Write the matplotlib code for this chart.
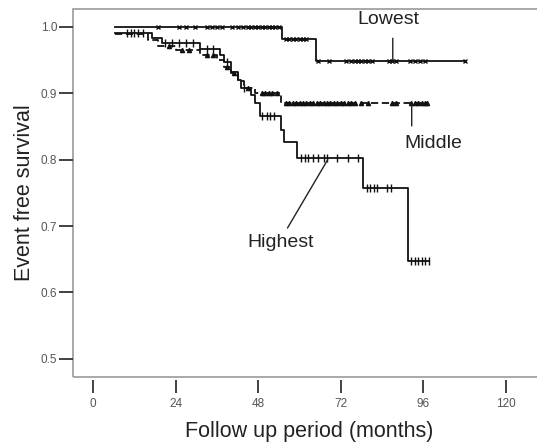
import numpy as np
import matplotlib
matplotlib.use('Agg')
import matplotlib.pyplot as plt
from matplotlib.patches import Rectangle

plt.rcParams['font.family'] = ['Liberation Sans', 'DejaVu Sans']

# Kaplan-Meier curves (months, survival)
low_start, low_end = 6.4, 108
low_times = [55, 64.7]
low_surv = [1.0, 0.982, 0.949]
low_cens = [19, 25, 27, 29.5, 33, 34.5, 36, 37.5, 40.5, 42, 43.5, 45, 46, 47, 48, 49,
            50, 51, 52, 53, 54, 56, 57, 58, 59, 60, 61, 62, 65.5, 68.5, 73.5, 75, 76,
            77, 78, 79, 80, 81, 86, 87, 88, 92, 93.5, 95, 96.5, 108]

mid_start, mid_end = 6.4, 97
mid_times = [16, 19, 24, 31, 36, 38, 40, 42, 44, 47, 54.5]
mid_surv = [0.99, 0.98, 0.972, 0.965, 0.958, 0.95, 0.94, 0.93, 0.918, 0.908, 0.90, 0.885]
mid_cens = [22, 26, 28, 33, 35, 39, 41, 45, 49, 50, 51, 52, 53.5, 56, 57, 58, 59, 60,
            61, 62, 63, 64, 65, 66, 67, 68, 69, 70, 71, 72, 73, 74, 75, 76, 78, 80,
            87, 88, 92.5, 93.5, 94.5, 95.5, 96.5, 97]

hi_start, hi_end = 6.4, 97.6
hi_times = [17, 20, 31, 37, 38, 40, 42, 43, 46, 47, 48.5, 54.5, 55.5, 59.4, 78.5, 91.5]
hi_surv = [0.991, 0.983, 0.976, 0.966, 0.958, 0.947, 0.932, 0.92, 0.908, 0.898, 0.886,
           0.866, 0.845, 0.826, 0.803, 0.757, 0.647]
hi_cens = [10, 11, 12, 13, 14.5, 21, 23, 25, 27, 29, 33, 35, 39, 44, 49, 50.5, 51.5,
           52.5, 60.5, 61.5, 62.5, 64, 65.5, 67, 68, 71, 74, 77, 79.5, 80.5, 81.5, 82.5,
           85.5, 86.5, 92.5, 93.5, 94.5, 95.5, 96.5, 97.6]

x_ticks = [0, 24, 48, 72, 96, 120]
y_ticks = [0.5, 0.6, 0.7, 0.8, 0.9, 1.0]

# group labels: (text, label position, leader start, leader end on curve)
labels = [
    ('Lowest', (85.8, 1.0105), (87.1, 0.983), (87.1, 0.949)),
    ('Middle', (99.0, 0.825), (92.6, 0.851), (92.6, 0.884)),
    ('Highest', (54.5, 0.676), (56.5, 0.697), (68.2, 0.80)),
]


def km_line(ax, start, end, times, surv, cens, ls, marker, ms):
    xs = [start] + list(times) + [end]
    ys = list(surv) + [surv[-1]]
    ax.step(xs, ys, where='post', color='#111111', lw=1.3, linestyle=ls)
    idx = np.searchsorted(times, cens, side='right')
    cy = np.array(surv)[idx]
    ax.plot(cens, cy, linestyle='none', marker=marker, ms=ms, mew=1.0,
            color='#111111', mfc='#111111')


fig = plt.figure(figsize=(5.37, 4.47), dpi=100)
ax = fig.add_axes([0.136, 0.157, 0.88, 0.823])

km_line(ax, low_start, low_end, low_times, low_surv, low_cens, '-', 'x', 3)
km_line(ax, mid_start, mid_end, mid_times, mid_surv, mid_cens, (0, (4, 2)), '^', 3)
km_line(ax, hi_start, hi_end, hi_times, hi_surv, hi_cens, '-', '|', 6)

ax.set_xlim(-5.8, 131.5)
ax.set_ylim(0.4729, 1.0271)

# frame drawn separately so x ticks can sit below it
for s in ax.spines.values():
    s.set_visible(False)
ax.spines['bottom'].set_position(('outward', 2))
ax.add_patch(Rectangle((0, 0), 1, 1, transform=ax.transAxes, fill=False,
                       edgecolor='#9a9a9a', lw=1.2, clip_on=False))

ax.set_xticks(x_ticks)
ax.set_yticks(y_ticks)
ax.set_yticklabels([f'{v:.1f}' for v in y_ticks])
ax.tick_params(axis='x', direction='out', length=9, width=1.3, color='#333333',
               labelsize=8.5, labelcolor='#555555', pad=4)
ax.tick_params(axis='y', direction='out', length=10, width=1.3, color='#333333',
               labelsize=8.5, labelcolor='#555555', pad=1.5)

ax.set_xlabel('Follow up period (months)', fontsize=15.5, color='#222222', labelpad=8)
ax.set_ylabel('Event free survival', fontsize=15.5, color='#222222', labelpad=4)

for txt, pos, a, b in labels:
    ax.text(pos[0], pos[1], txt, fontsize=14, color='#222222', ha='center', va='center')
    ax.annotate('', xy=b, xytext=a,
                arrowprops=dict(arrowstyle='-', color='#222222', lw=1.0,
                                shrinkA=0, shrinkB=0))

plt.savefig('out.png', dpi=100)
